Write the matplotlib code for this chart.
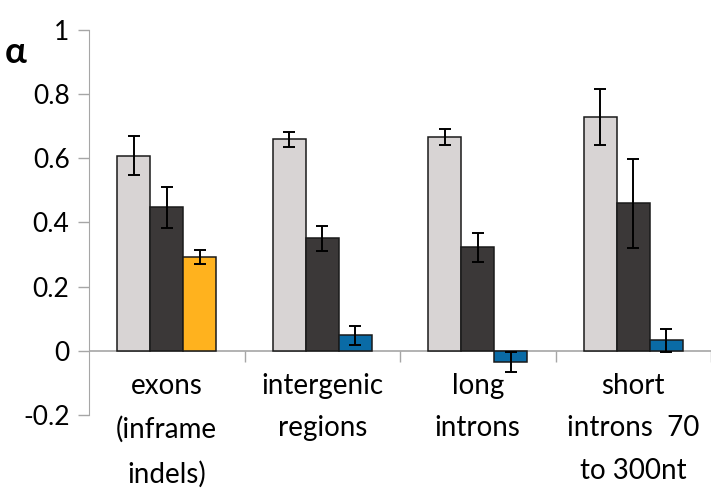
import matplotlib.pyplot as plt
import numpy as np

categories = ["exons\n(inframe\nindels)", "intergenic\nregions", "long\nintrons",
              "short\nintrons  70\nto 300nt"]
light_vals = [0.607, 0.658, 0.666, 0.727]
light_err = [0.060, 0.023, 0.025, 0.087]
dark_vals = [0.447, 0.350, 0.322, 0.459]
dark_err = [0.064, 0.038, 0.046, 0.138]
third_vals = [0.291, 0.048, -0.034, 0.032]
third_err = [0.022, 0.030, 0.031, 0.036]
third_colors = ["#FFB21E", "#0A6BA6", "#0A6BA6", "#0A6BA6"]

plt.rcParams['font.family'] = ['Lato', 'DejaVu Sans']

fig = plt.figure(figsize=(7.2, 4.98), dpi=100)
ax = fig.add_axes([89 / 720, 1 - 415 / 498, (711 - 89) / 720, (415 - 29.5) / 498])

x = np.arange(len(categories))
w = 0.212
err_kw = dict(ecolor="black", elinewidth=1.4, capsize=4, capthick=1.4)
ax.bar(x - w, light_vals, w, yerr=light_err, color="#D8D4D4", edgecolor="#1a1a1a",
       linewidth=1.1, error_kw=err_kw, zorder=2)
ax.bar(x, dark_vals, w, yerr=dark_err, color="#3B3838", edgecolor="#1a1a1a",
       linewidth=1.1, error_kw=err_kw, zorder=2)
ax.bar(x + w, third_vals, w, yerr=third_err, color=third_colors, edgecolor="#1a1a1a",
       linewidth=1.1, error_kw=err_kw, zorder=2)

ax.set_xlim(-0.5, len(categories) - 0.5)
ax.set_ylim(-0.2, 1)
ax.set_yticks([-0.2, 0, 0.2, 0.4, 0.6, 0.8, 1])
ax.set_yticklabels(["-0.2", "0", "0.2", "0.4", "0.6", "0.8", "1"], fontsize=19)

grey = "#A6A6A6"
for s in ["top", "right", "bottom"]:
    ax.spines[s].set_visible(False)
ax.spines["left"].set_color(grey)
ax.tick_params(axis="y", colors=grey, labelcolor="black", length=8, width=1, pad=6)
ax.set_xticks([])

# zero line and category separators
ax.axhline(0, color=grey, lw=1.2, zorder=1)
ax.vlines(np.arange(len(categories)) + 0.5, -0.034, 0, color=grey, lw=1, zorder=1)

for xi, lab in zip(x, categories):
    ax.text(xi, -0.068, lab, ha="center", va="top", fontsize=20, linespacing=1.8)

fig.text(5 / 720, 1 - 63 / 498, "α", fontsize=26, fontweight="bold",
         ha="left", va="baseline")

fig.savefig("out.png", dpi=100, facecolor="white")
